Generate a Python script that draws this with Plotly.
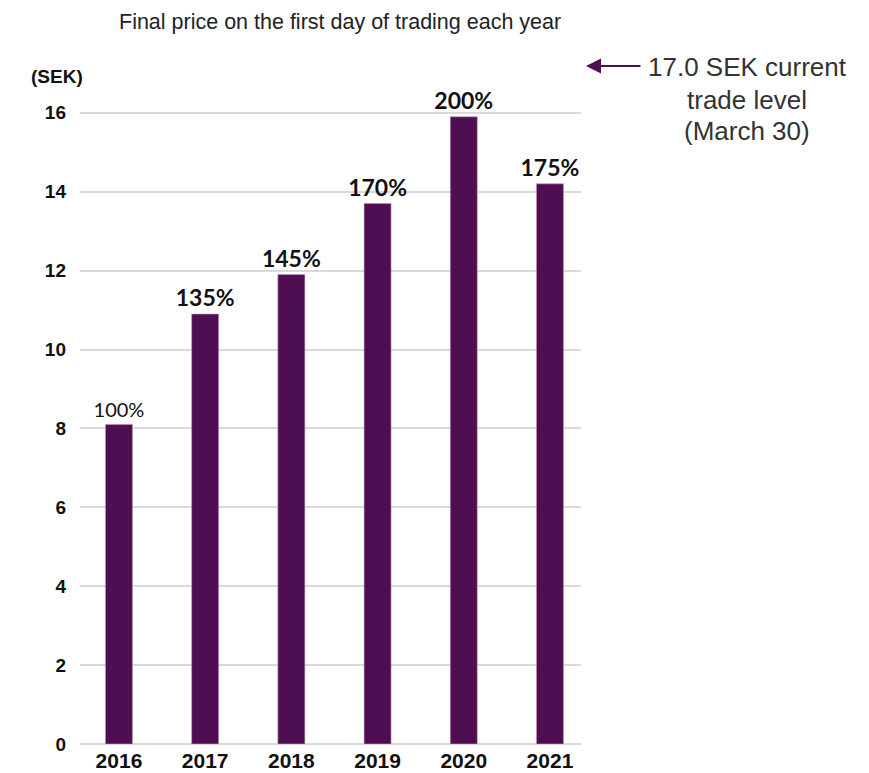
import plotly.graph_objects as go

years = ["2016", "2017", "2018", "2019", "2020", "2021"]
prices = [8.1, 10.9, 11.9, 13.7, 15.9, 14.2]
pct_labels = ["100%", "135%", "145%", "170%", "200%", "175%"]
y_ticks = [0, 2, 4, 6, 8, 10, 12, 14, 16]
note_lines = ["17.0 SEK current", "trade level", "(March 30)"]

BAR = "#4F0D52"
FONT = "Liberation Sans, Arial, sans-serif"

# figure pixel geometry (page offset of ~8px by body margin is compensated)
L, T, PW = 72, 93, 501
Y0 = 736.5
PH = Y0 - T
H = 773
YMAX = 16.3

def px(xf):
    return (xf - L) / PW

def py(yf):
    return (Y0 - yf) / PH

bar_text = [lab if i == 0 else "<b>" + lab + "</b>" for i, lab in enumerate(pct_labels)]
bar_text_sizes = [20 if i == 0 else 23 for i in range(len(pct_labels))]

fig = go.Figure()
fig.add_trace(go.Bar(
    x=years, y=prices,
    marker=dict(color=BAR, line=dict(color="#B89BBA", width=0.6)),
    width=0.313,
    text=bar_text, textposition="outside", constraintext="none",
    textfont=dict(family="Lato, Liberation Sans, sans-serif", size=bar_text_sizes, color="#111111"),
    cliponaxis=False,
    hoverinfo="skip",
))

fig.add_annotation(
    xref="paper", yref="paper", x=px(21), y=py(68), text="<b>(SEK)</b>",
    showarrow=False, xanchor="left", yanchor="middle",
    font=dict(family=FONT, size=19, color="#111111"),
)
fig.add_annotation(
    xref="paper", yref="paper", x=px(110), y=py(0.5),
    text="Final price on the first day of trading each year",
    showarrow=False, xanchor="left", yanchor="top", borderpad=0,
    font=dict(family=FONT, size=21.5, color="#222222"),
)
for line, yc in zip(note_lines, [59, 92, 123]):
    fig.add_annotation(
        xref="paper", yref="paper", x=px(739), y=py(yc),
        text=line, showarrow=False, xanchor="center", yanchor="middle",
        font=dict(family=FONT, size=26, color="#333333"),
    )
fig.add_annotation(
    xref="paper", yref="paper", x=px(578), y=py(58), ax=56, ay=0,
    axref="pixel", ayref="pixel", text="", showarrow=True,
    arrowhead=2, arrowsize=1.5, arrowwidth=2, arrowcolor="#4F0D52",
)

fig.update_layout(
    width=869, height=H,
    margin=dict(l=L, r=869 - L - PW, t=T, b=H - Y0, autoexpand=False),
    plot_bgcolor="white", paper_bgcolor="white",
    showlegend=False,
    xaxis=dict(
        type="category", range=[-0.452, 5.36], automargin=False,
        showgrid=False, showline=False, zeroline=False, ticks="",
        tickvals=years, ticktext=["<b>" + y + "</b>" for y in years],
        tickfont=dict(family=FONT, size=21, color="#111111"),
        ticklabelstandoff=2,
    ),
    yaxis=dict(
        range=[0, YMAX], automargin=False,
        tickvals=y_ticks, ticktext=[f"<b>{t}</b>" for t in y_ticks],
        showgrid=True, gridcolor="#DADADA", gridwidth=1.5,
        zeroline=True, zerolinecolor="#DADADA", zerolinewidth=1.5,
        showline=False, ticks="",
        tickfont=dict(family=FONT, size=19, color="#111111"),
        ticklabelstandoff=13,
    ),
)

fig.write_html("out.html")
